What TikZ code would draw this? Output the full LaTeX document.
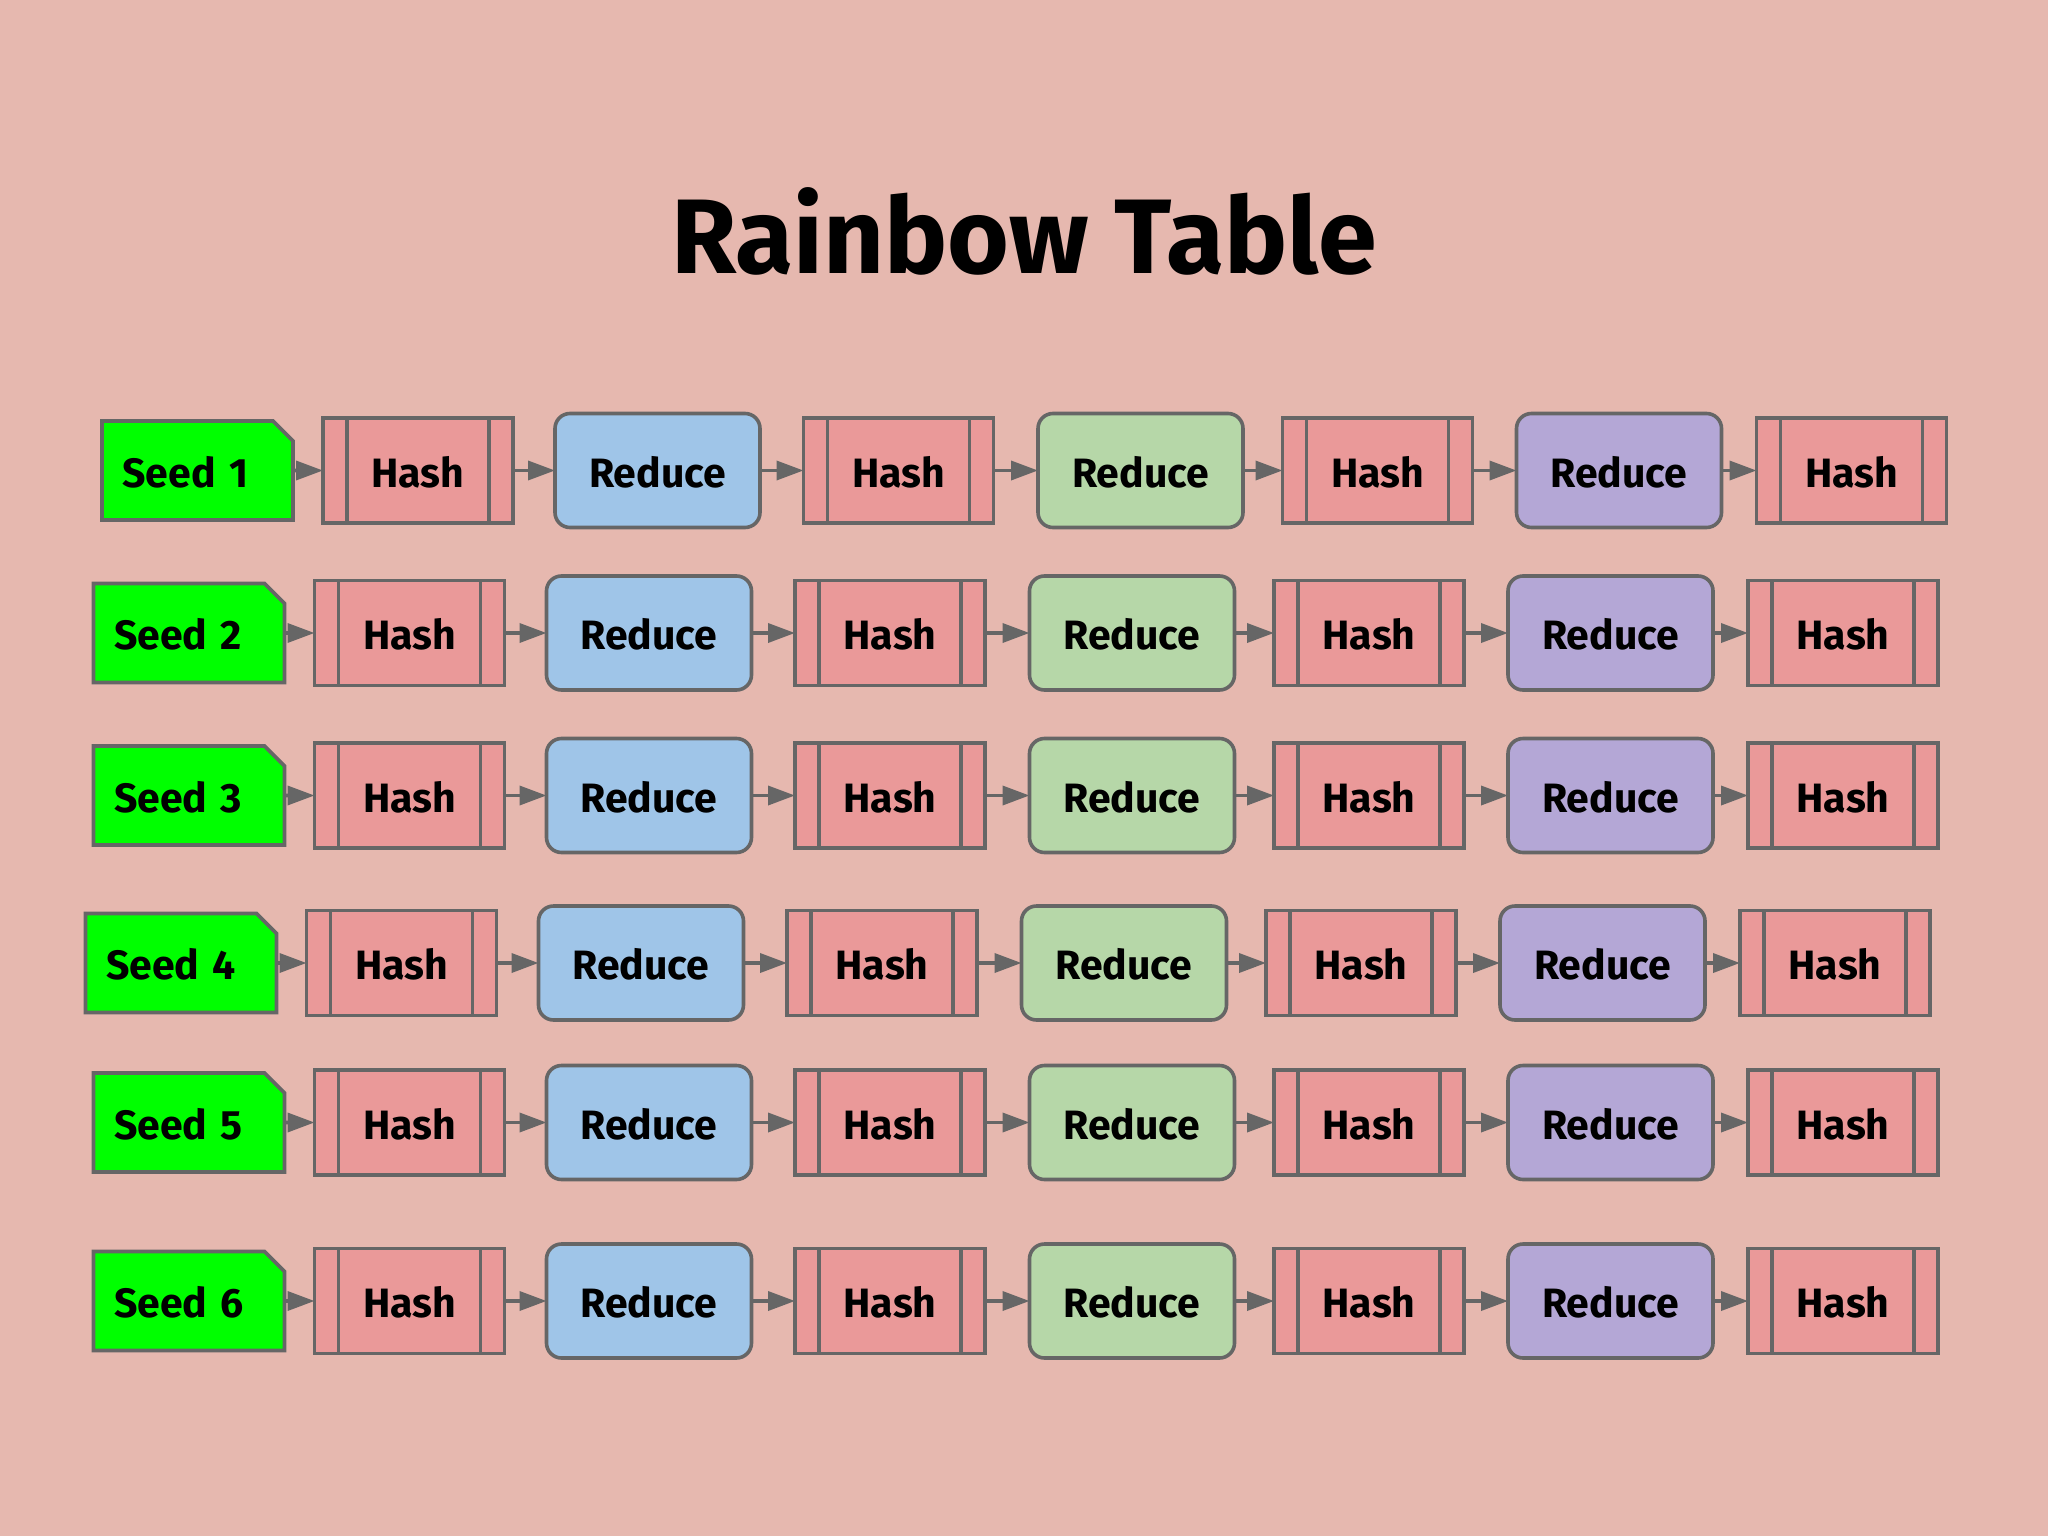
\documentclass[tikz,border=0pt]{standalone}
\usepackage{fontspec}
\setmainfont{Fira Sans}
\usetikzlibrary{shapes.misc,arrows.meta}

\definecolor{bgpink}{HTML}{E6B8AF}
\definecolor{linegray}{HTML}{666666}
\definecolor{seedgreen}{HTML}{00FF00}
\definecolor{hashred}{HTML}{EA9999}
\definecolor{redblue}{HTML}{9FC5E8}
\definecolor{redgreen}{HTML}{B6D7A8}
\definecolor{redpurple}{HTML}{B4A7D6}

\begin{document}
\begin{tikzpicture}[x=1pt,y=-1pt,
  box/.style={draw=linegray, line width=3.6pt, inner sep=0pt, outer sep=0pt,
    font=\fontsize{41}{48}\selectfont\bfseries, text height=33pt, text depth=0pt},
  seed/.style={box, chamfered rectangle, chamfered rectangle corners=north east,
    chamfered rectangle xsep=10pt, chamfered rectangle ysep=10pt, fill=seedgreen,
    minimum width=191pt, minimum height=99pt, text width=150pt, align=left},
  hash/.style={box, fill=hashred, minimum width=190pt, minimum height=105pt,
    path picture={\draw[linegray, line width=3.6pt]
      ([xshift=24pt]path picture bounding box.north west) -- ([xshift=24pt]path picture bounding box.south west)
      ([xshift=-24pt]path picture bounding box.north east) -- ([xshift=-24pt]path picture bounding box.south east);}},
  reduce/.style={box, rounded corners=15pt, minimum width=205pt, minimum height=114pt},
  link/.style={draw=linegray, line width=3.6pt, -{Triangle[length=27pt,width=19pt]}}]

\fill[bgpink] (0,0) rectangle (2048,1536);
\useasboundingbox (0,0) rectangle (2048,1536);

\node[font=\fontsize{106}{120}\selectfont\bfseries, anchor=base] (title) at (1024,273) {Rainbow Table};

% one chain per seed
\foreach \r/\y/\dx in {1/470.5/0, 2/633/-8.5, 3/795.5/-8.5, 4/963/-16.5, 5/1122.5/-8.5, 6/1301/-8.5} {
  \node[seed] (s\r) at (197.5+\dx,\y) {Seed \r};
  \node[hash] (a\r) at (418+\dx,\y) {Hash};
  \node[reduce, fill=redblue] (b\r) at (657.5+\dx,\y) {Reduce};
  \node[hash] (c\r) at (898.5+\dx,\y) {Hash};
  \node[reduce, fill=redgreen] (d\r) at (1140.5+\dx,\y) {Reduce};
  \node[hash] (e\r) at (1377.5+\dx,\y) {Hash};
  \node[reduce, fill=redpurple] (f\r) at (1619+\dx,\y) {Reduce};
  \node[hash] (g\r) at (1851.5+\dx,\y) {Hash};
  \draw[link] (s\r) -- (a\r);
  \draw[link] (a\r) -- (b\r);
  \draw[link] (b\r) -- (c\r);
  \draw[link] (c\r) -- (d\r);
  \draw[link] (d\r) -- (e\r);
  \draw[link] (e\r) -- (f\r);
  \draw[link] (f\r) -- (g\r);
}
\end{tikzpicture}
\end{document}
